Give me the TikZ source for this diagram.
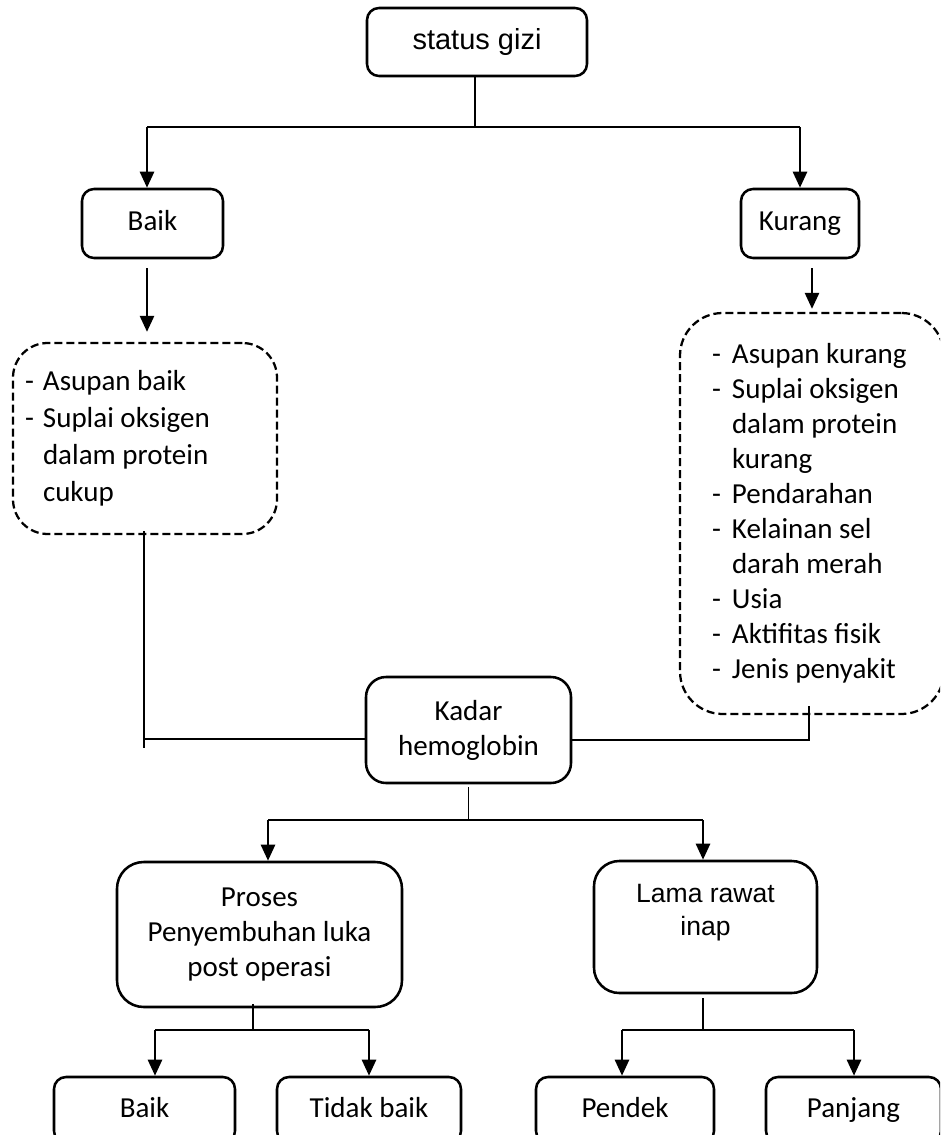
\documentclass[tikz,border=0pt]{standalone}
\usepackage{fontspec}
\setmainfont{Carlito}
\newfontfamily\arialfont{Liberation Sans}
\usetikzlibrary{arrows.meta}
\newcommand{\dashitem}[1]{\makebox[#1][l]{-}}
\newcommand{\dashskip}[1]{\hspace*{#1}}

\begin{document}
\begin{tikzpicture}[
		x=0.75pt, y=-0.75pt,
		every node/.style={font=\fontsize{21.75}{26.25}\selectfont, align=flush center},
		box/.style={draw, line width=1.9pt, rounded corners=9pt, inner sep=0pt},
		onerow/.style={text height=16pt, text depth=5.5pt},
		dashbox/.style={draw, line width=1.7pt, dash pattern=on 6pt off 3pt, align=flush left},
		link/.style={line width=0.9pt},
		bar/.style={line width=1.3pt},
		arr/.style={line width=1.9pt, -{Triangle[length=12pt, width=10.5pt]}}
		]
		\useasboundingbox (0,0) rectangle (940,1135);
		\clip (0,0) rectangle (940,1135);
		\node[box, onerow, minimum width=165pt, minimum height=51pt, font=\arialfont\fontsize{21.75}{26.25}\selectfont] (gizi) at (477,42) {status gizi};
		\node[box, onerow, minimum width=105.75pt, minimum height=51.75pt] (baik) at (152.5,223.5) {Baik};
		\node[box, onerow, minimum width=88.5pt, minimum height=51.75pt] (kurang) at (800,223.5) {Kurang};
		\node[dashbox, rounded corners=26pt, minimum height=143.25pt, text width=180pt, inner xsep=9pt, font=\fontsize{21.75}{27.75}\selectfont] (ketBaik) at (145,438.5) {\dashitem{13.5pt}Asupan baik\\ \dashitem{13.5pt}Suplai oksigen\\ \dashskip{13.5pt}dalam protein\\ \dashskip{13.5pt}cukup};
		\node[dashbox, rounded corners=32pt, minimum height=300.75pt, text width=150pt, inner xsep=24pt] (ketKurang) at (812,513.5) {\dashitem{15pt}Asupan kurang\\ \dashitem{15pt}Suplai oksigen\\ \dashskip{15pt}dalam protein\\ \dashskip{15pt}kurang\\ \dashitem{15pt}Pendarahan\\ \dashitem{15pt}Kelainan sel\\ \dashskip{15pt}darah merah\\ \dashitem{15pt}Usia\\ \dashitem{15pt}Aktifitas fisik\\ \dashitem{15pt}Jenis penyakit};
		\node[box, rounded corners=15pt, minimum width=153.75pt, minimum height=79.5pt] (kadar) at (468.5,730) {Kadar\\hemoglobin};
		\node[box, rounded corners=20pt, minimum width=213.75pt, minimum height=108.75pt] (proses) at (259.5,934.5) {Proses\\Penyembuhan luka\\post operasi};
		\node[box, rounded corners=19pt, minimum width=167.25pt, minimum height=99pt] (lama) at (705.5,927) {};
		\node[font=\arialfont\fontsize{19.9}{24.75}\selectfont] (lamaText) at ([yshift=10.5pt]lama.center) {Lama rawat\\inap};
		\node[box, onerow, minimum width=135.75pt, minimum height=49.5pt] (baikB) at (144.5,1110) {Baik};
		\node[box, onerow, minimum width=138pt, minimum height=49.5pt] (tidak) at (369,1110) {Tidak baik};
		\node[box, onerow, minimum width=133.5pt, minimum height=49.5pt] (pendek) at (625,1110) {Pendek};
		\node[box, onerow, minimum width=131.25pt, minimum height=49.5pt] (panjang) at (853.5,1110) {Panjang};

		\coordinate (tM) at (475,127);
		\coordinate (tL) at (147,127);
		\coordinate (tR) at (800,127);
		\draw[link] (tM |- gizi.south) -- (tM);
		\draw[bar] (tL) -- (tR);
		\draw[arr] (tL) -- (tL |- baik.north);
		\draw[arr] (tR) -- (tR |- kurang.north);
		\draw[arr, shorten <=6.75pt, shorten >=7.5pt] (tL |- baik.south) -- (tL |- ketBaik.north);
		\draw[arr, shorten <=6.75pt, shorten >=2.25pt] (ketKurang.north |- kurang.south) -- (ketKurang.north);

		\coordinate (jL) at (144,739);
		\coordinate (jR) at (809,740);
		\draw[link] ([yshift=3pt]jL |- ketBaik.south) -- ([yshift=-6.75pt]jL);
		\draw[link] (jL) -- (jL -| kadar.west);
		\draw[link] (jR -| kadar.east) -- (jR) -- ([yshift=6.75pt]jR |- ketKurang.south);

		\coordinate (mL) at (268,820);
		\coordinate (mR) at (703,820);
		\draw[link] ([yshift=-2.25pt]kadar.south) -- (kadar.south |- mL);
		\draw[bar] (mL) -- (mR);
		\draw[arr] (mL) -- (mL |- proses.north);
		\draw[arr] (mR) -- (mR |- lama.north);

		\coordinate (bLm) at (253,1030);
		\coordinate (bL1) at (155,1030);
		\coordinate (bL2) at (369,1030);
		\coordinate (bRm) at (703,1030);
		\coordinate (bR1) at (622,1030);
		\coordinate (bR2) at (854,1030);
		\draw[link] ([yshift=3pt]bLm |- proses.south) -- (bLm);
		\draw[link] ([yshift=-3pt]bRm |- lama.south) -- (bRm);
		\draw[bar] (bL1) -- (bL2);
		\draw[bar] (bR1) -- (bR2);
		\draw[arr] (bL1) -- (bL1 |- baikB.north);
		\draw[arr] (bL2) -- (bL2 |- tidak.north);
		\draw[arr] (bR1) -- (bR1 |- pendek.north);
		\draw[arr] (bR2) -- (bR2 |- panjang.north);
	\end{tikzpicture}
\end{document}
